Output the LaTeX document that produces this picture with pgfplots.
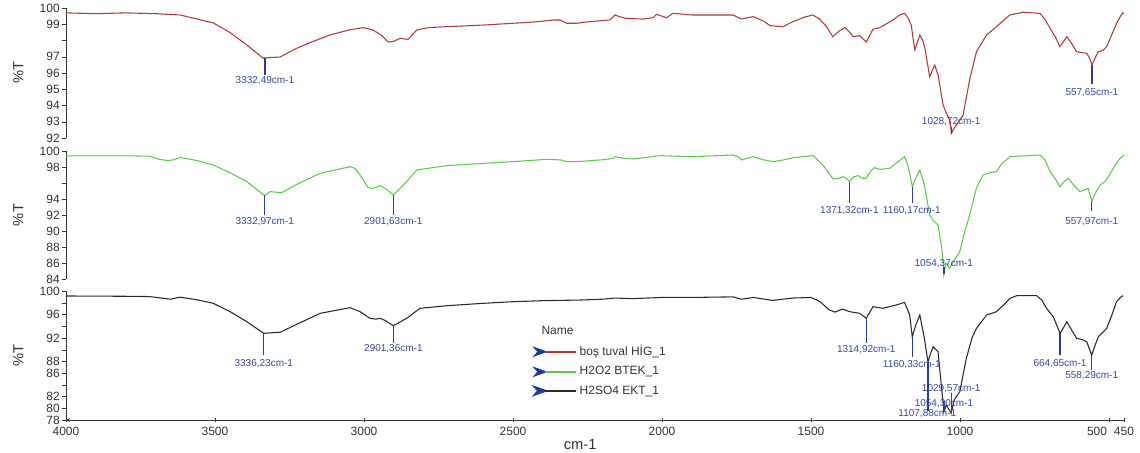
\documentclass[border=0pt]{standalone}
\usepackage{fontspec}
\setmainfont{Liberation Sans}
\usepackage{pgfplots}
\pgfplotsset{compat=1.18}
\definecolor{cred}{HTML}{B23A3A}
\definecolor{cgreen}{HTML}{5CCB4C}
\definecolor{cblack}{HTML}{2A2A2A}
\definecolor{pkline}{HTML}{2E3A8C}
\definecolor{pktext}{HTML}{3545A8}
\definecolor{chev}{HTML}{1B3C9A}
\definecolor{axc}{HTML}{333333}

\pgfplotsset{
  spec/.style={
    scale only axis, width=793.5pt,
    xmin=450, xmax=4000, x dir=reverse,
    axis y line=left, axis line style={-, axc},
    tick align=outside, major tick length=3pt, tick style={axc},
    yticklabel style={font=\fontsize{9}{9}\selectfont, text=axc, inner sep=1.5pt},
    every axis y label/.style={at={(axis description cs:-0.045,0.5)}, rotate=90,
      anchor=center, font=\fontsize{11}{11}\selectfont, text=axc},
    ylabel={\%T},
    clip=false,
    /pgf/number format/assume math mode=true,
  },
  nox/.style={axis x line=none, xtick=\empty},
  pkl/.style={pkline, line width=1pt, forget plot},
}
\tikzset{pk/.style={pktext, font=\fontsize{7.5}{7.5}\selectfont, inner sep=0pt}}

\begin{document}
\begin{tikzpicture}
\useasboundingbox (-49.5pt,6pt) rectangle (805.5pt,-333.75pt);

% ---- boş tuval (red)
\begin{axis}[spec, nox, at={(0pt,0pt)}, anchor=north west, height=97.5pt,
  ymin=92, ymax=100, ytick={92,...,100},
  yticklabels={92,93,94,95,96,97,,99,100}]
\addplot[cred, line width=0.8pt] coordinates {
(4000,99.7) (3900,99.65) (3800,99.7) (3700,99.65) (3617,99.57) (3506,99.08)
(3450,98.5) (3393,97.72) (3339,96.92) (3320,96.95) (3282,96.98) (3226,97.52)
(3170,97.95) (3114,98.34) (3050,98.65) (3003,98.79) (2970,98.65) (2940,98.3)
(2919,97.9) (2900,97.95) (2879,98.13) (2852,98.07) (2823,98.65) (2780,98.8)
(2722,98.85) (2600,98.95) (2500,99.06) (2420,99.15) (2366,99.26) (2342,99.26)
(2320,99.06) (2286,99.06) (2250,99.15) (2175,99.26) (2158,99.57) (2140,99.45)
(2119,99.36) (2064,99.32) (2030,99.4) (2018,99.61) (1985,99.4) (1963,99.67)
(1900,99.57) (1839,99.57) (1762,99.57) (1733,99.32) (1694,99.47) (1660,99.2)
(1637,98.91) (1594,98.85) (1561,99.16) (1520,99.45) (1494,99.57) (1470,99.3)
(1448,98.85) (1427,98.23) (1405,98.6) (1386,98.79) (1370,98.5) (1359,98.23)
(1337,98.3) (1315,97.9) (1292,98.7) (1270,98.79) (1225,99.26) (1203,99.57)
(1186,99.67) (1175,99.4) (1164,98.95) (1152,97.42) (1135,98.34) (1125,98.0)
(1118,97.52) (1102,95.77) (1085,96.49) (1074,95.88) (1057,94.03) (1046,93.52)
(1040,93.31) (1033,93.0) (1029,92.28) (1020,92.6) (1012,92.8) (990,93.4)
(967,95.67) (945,97.31) (911,98.34) (878,98.85) (833,99.57) (788,99.74)
(732,99.67) (715,99.3) (698,98.75) (680,98.2) (665,97.62) (642,98.23)
(625,97.8) (609,97.31) (590,97.25) (575,97.21) (565,96.9) (557.65,96.49)
(545,97.0) (536,97.31) (520,97.4) (508,97.62) (490,98.4) (475,99.06)
(455,99.7) (450,99.65)
};
\addplot[pkl] coordinates {(3332.49,96.92) (3332.49,95.9)};
\addplot[pkl] coordinates {(557.65,96.49) (557.65,95.3)};
\addplot[pkl] coordinates {(1028.72,92.3) (1028.72,92.7)};
\node[pk] at (axis cs:3332.49,95.5) {3332,49cm-1};
\node[pk] at (axis cs:557.65,94.8) {557,65cm-1};
\node[pk] at (axis cs:1030,92.98) {1028,72cm-1};
\end{axis}

% ---- H2O2 (green)
\begin{axis}[spec, nox, at={(0pt,-107.25pt)}, anchor=north west, height=96pt,
  ymin=84, ymax=100, ytick={84,86,...,100},
  yticklabels={84,86,88,90,92,94,,98,100}]
\addplot[cgreen, line width=0.8pt] coordinates {
(4000,99.4) (3800,99.4) (3720,99.35) (3690,99.0) (3660,98.8) (3640,98.9)
(3617,99.2) (3560,98.8) (3506,98.25) (3450,97.3) (3393,96.17) (3339,94.58)
(3332.97,94.4) (3315,94.92) (3276,94.79) (3226,95.83) (3147,97.21) (3047,98.04)
(3030,97.8) (3013,97.0) (2986,95.42) (2969,95.33) (2946,95.67) (2929,95.33)
(2901.63,94.5) (2880,95.3) (2857,96.17) (2823,97.63) (2723,98.17) (2600,98.45)
(2500,98.67) (2387,98.96) (2340,98.88) (2320,98.67) (2286,98.67) (2200,98.9)
(2163,99.08) (2158,99.29) (2130,99.1) (2097,99.0) (2007,99.42) (1950,99.35)
(1896,99.29) (1762,99.5) (1745,99.3) (1733,98.88) (1694,99.29) (1660,98.9)
(1627,98.67) (1590,98.9) (1560,99.17) (1493,99.42) (1460,98.25) (1426,96.5)
(1405,96.6) (1392,96.79) (1380,96.5) (1371.32,96.17) (1355,96.8) (1342,96.92)
(1330,96.6) (1315,96.58) (1300,97.5) (1287,97.92) (1270,97.7) (1236,97.83)
(1210,98.6) (1186,99.29) (1175,98.2) (1160.17,95.54) (1150,96.5) (1135,97.63)
(1120,95.8) (1102,92.0) (1090,91.3) (1074,90.75) (1060,87.5) (1054.37,84.5)
(1048,86.0) (1035,85.33) (1020,86.3) (1001,87.42) (985,89.8) (968,92.0)
(945,95.4) (923,97.0) (900,97.3) (878,97.42) (860,98.4) (833,99.29)
(732,99.5) (715,98.9) (698,97.42) (680,96.5) (665,95.54) (650,96.2)
(637,96.58) (620,95.8) (598,94.92) (585,95.1) (570,95.33) (557.97,93.67)
(548,94.6) (530,95.75) (510,96.3) (486,97.83) (465,99.0) (450,99.5)
};
\addplot[pkl] coordinates {(3332.97,94.5) (3332.97,92.0)};
\addplot[pkl] coordinates {(2901.63,94.5) (2901.63,92.0)};
\addplot[pkl] coordinates {(1371.32,96.17) (1371.32,93.5)};
\addplot[pkl] coordinates {(1160.17,95.54) (1160.17,93.5)};
\addplot[pkl] coordinates {(1054.37,84.6) (1054.37,85.5)};
\addplot[pkl] coordinates {(557.97,93.67) (557.97,92.5)};
\node[pk] at (axis cs:3332.97,91.16) {3332,97cm-1};
\node[pk] at (axis cs:2901.63,91.16) {2901,63cm-1};
\node[pk] at (axis cs:1371.32,92.6) {1371,32cm-1};
\node[pk] at (axis cs:1162,92.6) {1160,17cm-1};
\node[pk] at (axis cs:1054.37,85.96) {1054,37cm-1};
\node[pk] at (axis cs:557.97,91.16) {557,97cm-1};
\end{axis}

% ---- H2SO4 (black)
\begin{axis}[spec, at={(0pt,-212.25pt)}, anchor=north west, height=96.75pt,
  axis x line=bottom,
  ymin=78, ymax=100, ytick={78,80,...,100},
  yticklabels={78,80,82,,86,88,,92,,96,,100},
  xtick={450,500,1000,1500,2000,2500,3000,3500,4000},
  xticklabels={450,\makebox[0pt][r]{500\hspace{1.5pt}},1000,1500,2000,2500,3000,3500,4000},
  xticklabel style={font=\fontsize{9}{9}\selectfont, text=axc},
  xlabel={cm-1},
  every axis x label/.style={at={(axis description cs:0.486,0)}, yshift=-18.75pt,
    anchor=center, font=\fontsize{11}{11}\selectfont, text=axc},
  legend style={at={(axis description cs:0.441,0.60)}, anchor=north west,
    draw=none, fill=none, font=\fontsize{9}{9}\selectfont, text=axc,
    inner sep=0pt, row sep=2.5pt},
  legend cell align=left,
  legend image code/.code={
    \fill[chev] (0pt,3.6pt) -- (10pt,0pt) -- (0pt,-3.6pt) -- (3.2pt,0pt) -- cycle;
    \draw[#1, line width=1.5pt] (9pt,0pt) -- (32pt,0pt);},
]
\addlegendimage{cred}
\addlegendentry{boş tuval HİG\_1}
\addlegendimage{cgreen}
\addlegendentry{H2O2 BTEK\_1}
\addplot[cblack, line width=0.8pt] coordinates {
(4000,99.15) (3800,99.1) (3720,99.05) (3680,98.8) (3650,98.6) (3617,98.95)
(3560,98.5) (3506,97.9) (3450,96.5) (3393,94.76) (3336.23,92.78) (3320,92.85)
(3282,92.95) (3226,94.32) (3147,96.19) (3047,97.16) (3013,96.47) (2980,95.34)
(2960,95.2) (2946,95.34) (2930,95.0) (2901.36,94.08) (2857,95.34) (2812,97.05)
(2722,97.49) (2600,97.9) (2499,98.18) (2400,98.35) (2275,98.46) (2200,98.6)
(2158,98.8) (2100,98.7) (2000,98.9) (1900,98.9) (1762,99.0) (1733,98.6)
(1694,98.9) (1630,98.4) (1560,98.8) (1500,98.9) (1470,98.2) (1440,96.8)
(1420,96.4) (1395,96.9) (1370,96.47) (1337,96.19) (1314.92,95.34) (1292,97.33)
(1259,97.05) (1214,97.61) (1186,98.07) (1169,95.9) (1160.33,92.2) (1150,94.0)
(1135,95.9) (1120,92.0) (1107.88,87.94) (1098,89.5) (1090,90.5) (1074,89.64)
(1065,85.0) (1054.3,79.4) (1046,80.6) (1040,80.0) (1029.57,79.2) (1020,81.4)
(1001,82.82) (979,88.52) (960,92.0) (945,93.63) (911,95.9) (878,96.47)
(850,97.8) (833,98.75) (810,99.2) (743,99.2) (725,98.4) (710,97.05)
(687,95.61) (664.65,92.78) (650,94.0) (642,94.76) (625,93.3) (609,91.93)
(590,91.7) (575,91.35) (558.29,89.08) (545,91.0) (536,92.2) (508,93.63)
(490,96.0) (475,98.18) (460,99.0) (453,99.2)
};
\addlegendentry{H2SO4 EKT\_1}
\addplot[pkl] coordinates {(3336.23,92.78) (3336.23,89.1)};
\addplot[pkl] coordinates {(2901.36,94.08) (2901.36,91.13)};
\addplot[pkl] coordinates {(1314.92,95.34) (1314.92,91.13)};
\addplot[pkl] coordinates {(1160.33,92.2) (1160.33,88.7)};
\addplot[pkl] coordinates {(1107.88,87.94) (1107.88,79.6)};
\addplot[pkl] coordinates {(1054.3,79.4) (1054.3,81.3)};
\addplot[pkl] coordinates {(1029.57,79.2) (1029.57,82.6)};
\addplot[pkl] coordinates {(664.65,92.78) (664.65,89.1)};
\addplot[pkl] coordinates {(558.29,89.08) (558.29,86.5)};
\node[pk] at (axis cs:3336.23,87.66) {3336,23cm-1};
\node[pk] at (axis cs:2901.36,90.1) {2901,36cm-1};
\node[pk] at (axis cs:1314.92,89.93) {1314,92cm-1};
\node[pk] at (axis cs:1162,87.5) {1160,33cm-1};
\node[pk] at (axis cs:1030,83.4) {1029,57cm-1};
\node[pk] at (axis cs:1054,80.83) {1054,30cm-1};
\node[pk] at (axis cs:1110,79.13) {1107,88cm-1};
\node[pk] at (axis cs:664.65,87.66) {664,65cm-1};
\node[pk] at (axis cs:558.29,85.55) {558,29cm-1};
\node[anchor=west, font=\fontsize{9}{9}\selectfont, text=axc]
  at (axis description cs:0.445,0.698) {Name};
\end{axis}
\end{tikzpicture}
\end{document}
